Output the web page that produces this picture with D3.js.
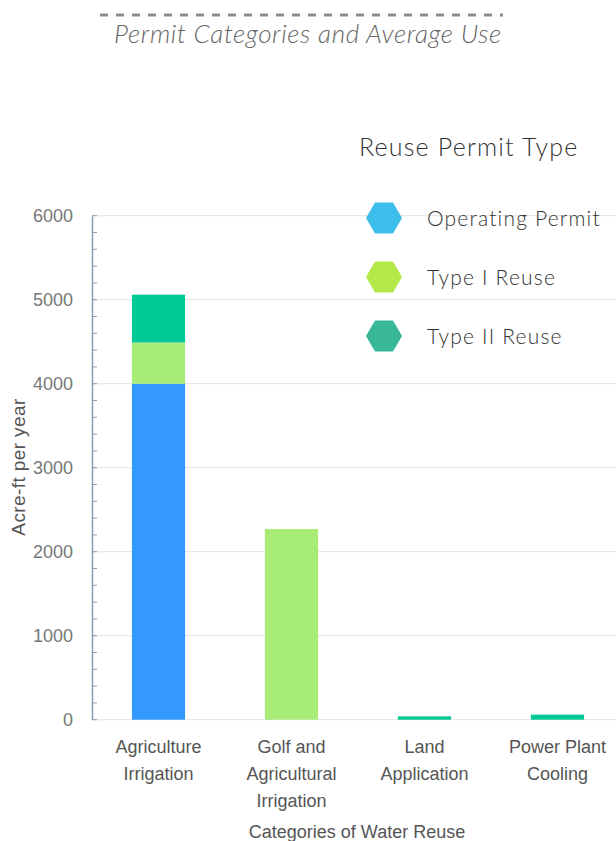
<!DOCTYPE html>
<html><head><meta charset="utf-8">
<script src="https://cdn.jsdelivr.net/npm/d3@7"></script>
<style>body{margin:0;background:#fff}svg{display:block}</style>
</head><body>
<svg id="c" width="616" height="841"></svg>
<script>
const categories = ["Agriculture Irrigation", "Golf and Agricultural Irrigation", "Land Application", "Power Plant Cooling"];
const categoryLines = [["Agriculture","Irrigation"],["Golf and","Agricultural","Irrigation"],["Land","Application"],["Power Plant","Cooling"]];
const seriesNames = ["Operating Permit", "Type I Reuse", "Type II Reuse"];
const operatingPermit = [4000, 0, 0, 0];
const typeIReuse = [490, 2270, 0, 0];
const typeIIReuse = [570, 0, 40, 60];
const yTicks = [0, 1000, 2000, 3000, 4000, 5000, 6000];
const barColors = ["#3399ff", "#a8ec78", "#00c896"];
const legendColors = ["#3dbdea", "#b4ea48", "#38b897"];

const svg = d3.select("#c");
const x = d3.scaleBand().domain(categories).range([92, 624]).paddingInner(0.6).paddingOuter(0.3);
const y = d3.scaleLinear().domain([0, 6000]).range([719.7, 215.7]);
const sans = "'Liberation Sans', Arial, sans-serif";
const light = "Lato, 'Open Sans', sans-serif";

// title
svg.append("line").attr("x1",100).attr("x2",503).attr("y1",15).attr("y2",15)
  .attr("stroke","#8a8a8a").attr("stroke-width",3).attr("stroke-dasharray","8,8");
svg.append("text").attr("x",308).attr("y",43).attr("text-anchor","middle")
  .attr("font-family",light).attr("font-style","italic").attr("font-weight",300)
  .attr("font-size",26).attr("letter-spacing",0.6).attr("fill","#666").text("Permit Categories and Average Use");

// gridlines
svg.append("g").selectAll("line").data(yTicks).join("line")
  .attr("x1",92).attr("x2",616).attr("y1",d=>y(d)).attr("y2",d=>y(d))
  .attr("stroke","#e3e3e3").attr("stroke-width",1);

// axis
const yAxis = d3.axisLeft(y).tickValues(yTicks).tickSize(0).tickPadding(19).tickFormat(d3.format("d"));
const ag = svg.append("g").attr("transform","translate(92,0)").call(yAxis);
ag.select(".domain").attr("stroke","#8a9bb5").attr("stroke-width",1.5);
ag.selectAll("text").attr("font-family",sans).attr("font-size",18).attr("fill","#777");
const minor = d3.range(0, 6001, 200);
svg.append("g").selectAll("line").data(minor).join("line")
  .attr("x1",92).attr("x2",97).attr("y1",d=>y(d)).attr("y2",d=>y(d))
  .attr("stroke","#8a9bb5").attr("stroke-width",1);

// stacked bars
const rows = categories.map((c,i)=>({cat:c, "Operating Permit":operatingPermit[i], "Type I Reuse":typeIReuse[i], "Type II Reuse":typeIIReuse[i]}));
const stack = d3.stack().keys(seriesNames)(rows);
svg.append("g").selectAll("g").data(stack).join("g").attr("fill",(d,i)=>barColors[i])
  .selectAll("rect").data(d=>d.filter(p=>p[1]-p[0]>0)).join("rect")
  .attr("x",d=>x(d.data.cat)).attr("width",x.bandwidth())
  .attr("y",d=>y(d[1])).attr("height",d=>y(d[0])-y(d[1]));

// x labels
const xl = svg.append("g").attr("font-family",sans).attr("font-size",18).attr("fill","#555").attr("text-anchor","middle");
categories.forEach((c,i)=>{
  const t = xl.append("text").attr("x",x(c)+x.bandwidth()/2).attr("y",753);
  categoryLines[i].forEach((l,j)=>t.append("tspan").attr("x",x(c)+x.bandwidth()/2).attr("dy",j?27:0).text(l));
});
svg.append("text").attr("x",357).attr("y",838).attr("text-anchor","middle")
  .attr("font-family",sans).attr("font-size",18).attr("fill","#555").text("Categories of Water Reuse");
svg.append("text").attr("transform","translate(25,467) rotate(-90)").attr("text-anchor","middle")
  .attr("font-family",sans).attr("font-size",19).attr("letter-spacing",0.4).attr("fill","#555").text("Acre-ft per year");

// legend
svg.append("text").attr("x",359).attr("y",156).attr("font-family",light).attr("font-weight",300)
  .attr("font-size",25).attr("letter-spacing",1.2).attr("fill","#333").text("Reuse Permit Type");
const hex = r => d3.range(6).map(k=>{const a=Math.PI/3*k; return [r*Math.cos(a), r*Math.sin(a)];});
const lg = svg.append("g").selectAll("g").data(seriesNames).join("g")
  .attr("transform",(d,i)=>`translate(384,${218+i*59})`);
lg.append("polygon").attr("points",hex(18).map(p=>p.join(",")).join(" ")).attr("fill",(d,i)=>legendColors[i]);
lg.append("text").attr("x",43).attr("y",8).attr("font-family",light).attr("font-weight",300)
  .attr("font-size",21).attr("letter-spacing",1.2).attr("fill","#333").text(d=>d);
</script>
</body></html>
